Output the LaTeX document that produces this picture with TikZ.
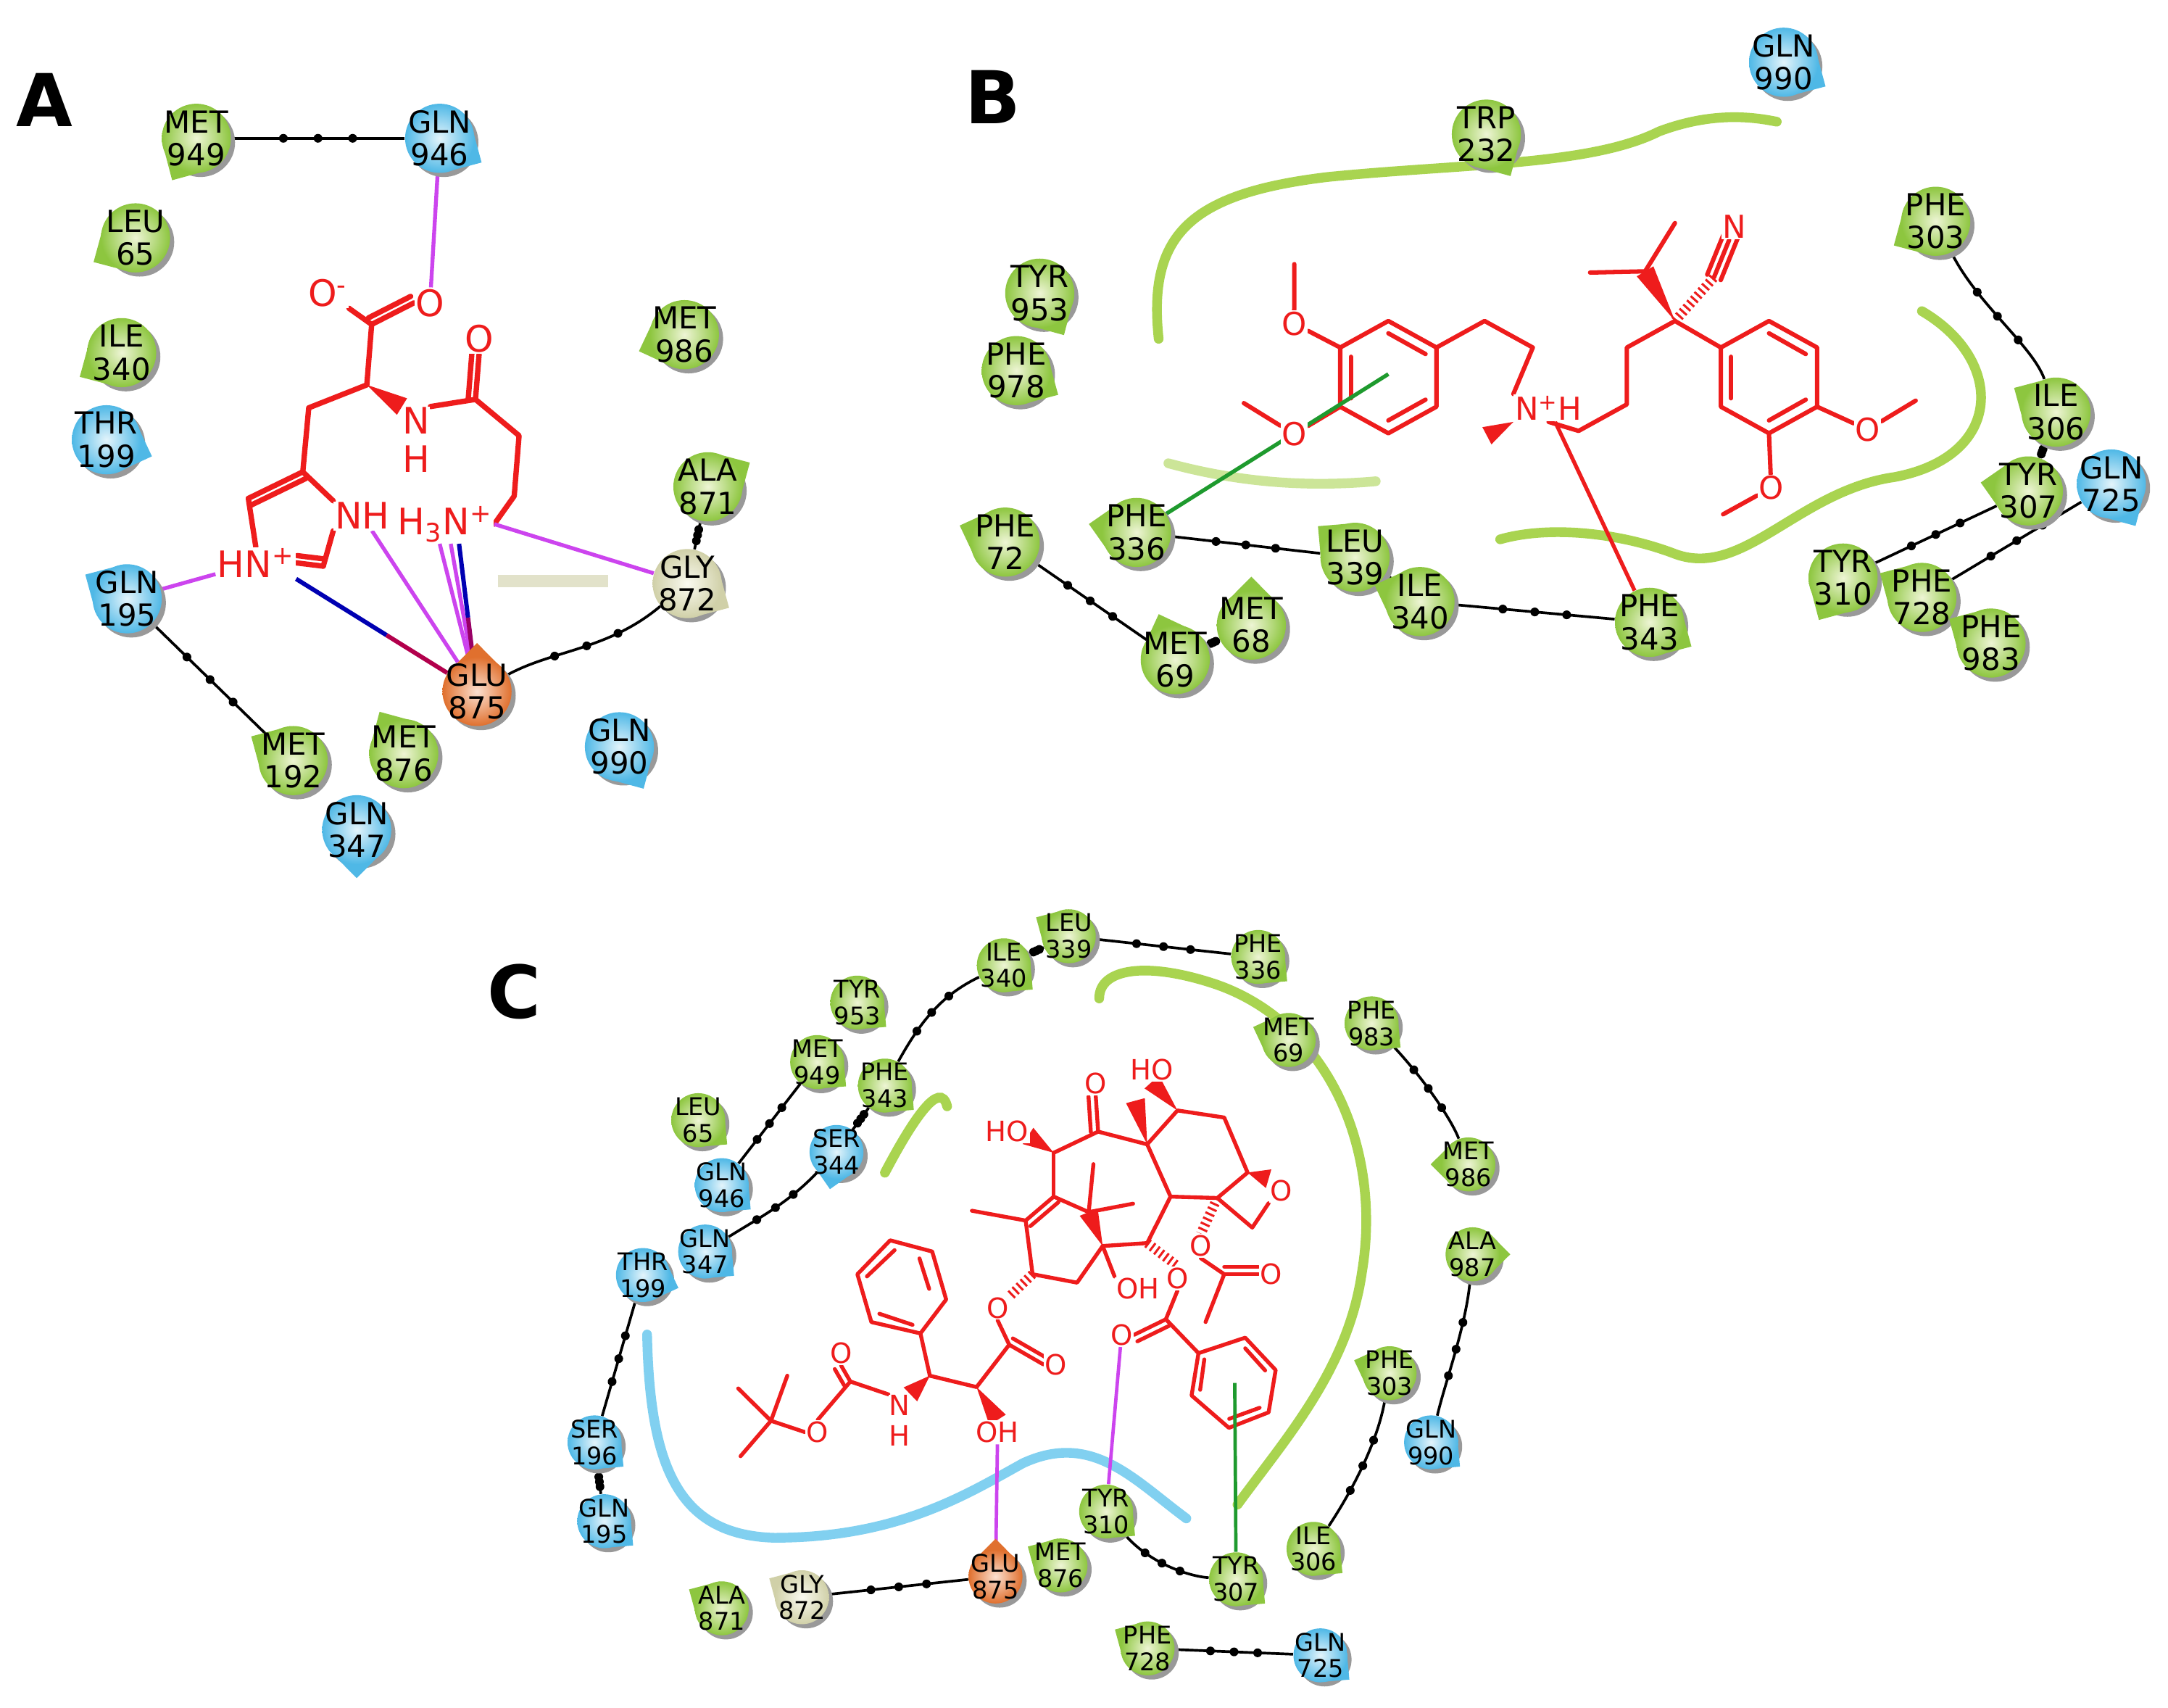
\documentclass[tikz,border=0pt]{standalone}
\usepackage{fontspec}
\setmainfont{DejaVu Sans}
\usetikzlibrary{calc,decorations.markings}
\pgfdeclarelayer{bg}\pgfdeclarelayer{bgw}\pgfsetlayers{bgw,bg,main}
\definecolor{gL}{HTML}{EEF5D5}\definecolor{gD}{HTML}{8DC63F}
\definecolor{bL}{HTML}{E3F4FB}\definecolor{bD}{HTML}{4FB8E6}
\definecolor{oL}{HTML}{FBE0D0}\definecolor{oD}{HTML}{E0702E}
\definecolor{pL}{HTML}{FAFAF0}\definecolor{pD}{HTML}{D0D0A8}
\definecolor{molred}{HTML}{EE1C1C}
\definecolor{hb}{HTML}{CC44EE}
\definecolor{pocket}{HTML}{9ACD32}
\definecolor{pocketb}{HTML}{6CC8EE}
\definecolor{pigreen}{HTML}{1E9A2E}
\def\myrad{0.5}
\def\myresfont{\fontsize{12.5}{13.5}\selectfont}
\newcommand\resnode[6]{%
  \fill[black!40] (#2+3,#3+3) circle[radius=\myrad cm];
  \fill[#5D] ([shift={(#2,#3)}]#6:{1.4*\myrad cm}) -- ([shift={(#2,#3)}]#6+55:\myrad cm) -- ([shift={(#2,#3)}]#6-55:\myrad cm) -- cycle;
  \node[circle,minimum size=2*\myrad cm,inner sep=0pt,inner color=#5L,outer color=#5D] (#1) at (#2,#3) {};
  \node[font=\myresfont,align=center,inner sep=0pt] (#1t) at (#2,#3) {#4};}
\newcommand\dbond[2]{\draw (#1) -- (#2); \draw ($(#1)!3pt!90:(#2)$) -- ($(#2)!3pt!-90:(#1)$);}
\newcommand\wedgebond[2]{\fill[molred] (#1) -- ($(#2)!4pt!90:(#1)$) -- ($(#2)!4pt!-90:(#1)$) -- cycle;}
\newcommand\hashbond[2]{\draw[line width=4pt,line cap=butt,dash pattern=on 0.9pt off 1.4pt] (#1) -- (#2);}
\tikzset{
  bb/.style={black,line width=1.1pt,postaction={decorate},decoration={markings,
     mark=at position 0.3 with {\fill circle[radius=1.8pt];},
     mark=at position 0.5 with {\fill circle[radius=1.8pt];},
     mark=at position 0.7 with {\fill circle[radius=1.8pt];}}},
  mol/.style={draw=molred,line width=2.2pt,line cap=round,line join=round},
  atom/.style={text=molred,fill=white,inner sep=0.5pt},
  hbond/.style={hb,line width=1.6pt},
  pk/.style={pocket,line width=4pt,line cap=round,opacity=0.85},
  panel/.style={font=\fontsize{30}{30}\selectfont\bfseries},
}
\begin{document}
\begin{tikzpicture}[x=0.02cm,y=-0.02cm]
\useasboundingbox (0,0) rectangle (1568,1235);
\begin{pgfonlayer}{bgw}
\fill[white] (0,0) rectangle (1568,1235);
\draw[pD,line width=5pt,opacity=0.6] (360,420) -- (440,420);
\draw[pk] (838,245) .. controls (830,170) and (860,140) .. (960,128) .. controls (1060,118) and (1150,120) .. (1200,95) .. controls (1240,80) and (1270,85) .. (1285,88);
\draw[pk] (1390,225) .. controls (1450,260) and (1450,330) .. (1370,345) .. controls (1300,355) and (1260,420) .. (1210,400) .. controls (1170,385) and (1120,380) .. (1085,390);
\draw[pk,opacity=0.5] (845,335) .. controls (900,350) and (950,352) .. (995,348);
\draw[pk] (795,722) .. controls (795,700) and (830,695) .. (880,712) .. controls (960,740) and (1000,830) .. (985,920) .. controls (975,990) and (930,1040) .. (895,1088);
\draw[pk] (640,848) .. controls (660,810) and (680,780) .. (685,800);
\draw[pocketb,line width=4pt,line cap=round,opacity=0.85] (468,965) .. controls (470,1060) and (490,1110) .. (560,1112) .. controls (650,1112) and (700,1080) .. (740,1058) .. controls (790,1035) and (820,1070) .. (858,1098);
\end{pgfonlayer}
\node[panel] (la) at (32,72) {A};
\node[panel] (lb) at (718,70) {B};
\node[panel] (lc) at (372,717) {C};

% ---------- residues
\resnode{aM949}{142}{100}{MET\\949}{g}{-120}
\resnode{aQ946}{318}{100}{GLN\\946}{b}{-30}
\resnode{aL65}{98}{172}{LEU\\65}{g}{-150}
\resnode{aI340}{88}{255}{ILE\\340}{g}{-150}
\resnode{aT199}{77}{318}{THR\\199}{b}{-20}
\resnode{aM986}{495}{242}{MET\\986}{g}{200}
\resnode{aA871}{512}{352}{ALA\\871}{g}{30}
\resnode{aG872}{497}{422}{GLY\\872}{p}{-30}
\resnode{aQ195}{92}{433}{GLN\\195}{b}{150}
\resnode{aM876}{292}{545}{MET\\876}{g}{120}
\resnode{aQ990}{448}{540}{GLN\\990}{b}{-60}
\resnode{aM192}{212}{550}{MET\\192}{g}{150}
\resnode{aQ347}{258}{600}{GLN\\347}{b}{-90}
\resnode{aE875}{345}{500}{GLU\\875}{o}{90}
% B
\resnode{bQ990}{1290}{45}{GLN\\990}{b}{-30}
\resnode{bW232}{1075}{97}{TRP\\232}{g}{-60}
\resnode{bF303}{1400}{160}{PHE\\303}{g}{-150}
\resnode{bY953}{752}{212}{TYR\\953}{g}{-60}
\resnode{bF978}{735}{268}{PHE\\978}{g}{-30}
\resnode{bI306}{1487}{298}{ILE\\306}{g}{150}
\resnode{bQ725}{1527}{350}{GLN\\725}{b}{-60}
\resnode{bY307}{1467}{355}{TYR\\307}{g}{170}
\resnode{bF72}{727}{392}{PHE\\72}{g}{160}
\resnode{bF336}{822}{385}{PHE\\336}{g}{170}
\resnode{bL339}{980}{403}{LEU\\339}{g}{140}
\resnode{bI340}{1027}{435}{ILE\\340}{g}{160}
\resnode{bM68}{905}{452}{MET\\68}{g}{90}
\resnode{bM69}{850}{477}{MET\\69}{g}{110}
\resnode{bF343}{1193}{450}{PHE\\343}{g}{-30}
\resnode{bY310}{1333}{418}{TYR\\310}{g}{-120}
\resnode{bF728}{1390}{432}{PHE\\728}{g}{150}
\resnode{bF983}{1440}{465}{PHE\\983}{g}{150}
% C
\def\myrad{0.39}
\def\myresfont{\fontsize{10}{11}\selectfont}
\resnode{cL339}{773}{677}{LEU\\339}{g}{150}
\resnode{cF336}{910}{692}{PHE\\336}{g}{-40}
\resnode{cI340}{726}{698}{ILE\\340}{g}{-40}
\resnode{cY953}{620}{725}{TYR\\953}{g}{-40}
\resnode{cM949}{591}{768}{MET\\949}{g}{-40}
\resnode{cF343}{640}{785}{PHE\\343}{g}{-40}
\resnode{cM69}{932}{752}{MET\\69}{g}{160}
\resnode{cF983}{992}{740}{PHE\\983}{g}{-40}
\resnode{cL65}{505}{810}{LEU\\65}{g}{-40}
\resnode{cS344}{605}{833}{SER\\344}{b}{-100}
\resnode{cQ946}{522}{857}{GLN\\946}{b}{-40}
\resnode{cM986}{1062}{842}{MET\\986}{g}{180}
\resnode{cQ347}{510}{905}{GLN\\347}{b}{-40}
\resnode{cT199}{465}{922}{THR\\199}{b}{-20}
\resnode{cA987}{1065}{907}{ALA\\987}{g}{0}
\resnode{cF303}{1005}{993}{PHE\\303}{g}{160}
\resnode{cS196}{430}{1043}{SER\\196}{b}{-40}
\resnode{cQ990}{1035}{1043}{GLN\\990}{b}{-40}
\resnode{cQ195}{437}{1100}{GLN\\195}{b}{-40}
\resnode{cY310}{800}{1093}{TYR\\310}{g}{-40}
\resnode{cI306}{950}{1120}{ILE\\306}{g}{-40}
\resnode{cM876}{767}{1132}{MET\\876}{g}{150}
\resnode{cY307}{894}{1142}{TYR\\307}{g}{-40}
\resnode{cG872}{580}{1155}{GLY\\872}{p}{150}
\resnode{cA871}{522}{1163}{ALA\\871}{g}{150}
\resnode{cF728}{830}{1192}{PHE\\728}{g}{150}
\resnode{cQ725}{955}{1197}{GLN\\725}{b}{-40}
\resnode{cE875}{720}{1140}{GLU\\875}{o}{90}

% ---------- backbone connectors
\begin{pgfonlayer}{bg}
\draw[bb] (aM949) -- (aQ946);
\draw[bb] (aQ195) -- (aM192);
\draw[bb] (aE875) .. controls (400,470) and (440,470) .. (aG872);
\draw[bb] (aA871) -- (aG872);
\draw[bb] (bF303) .. controls (1430,220) and (1470,250) .. (bI306);
\draw[bb] (bI306) -- (bY307);
\draw[bb] (bY307) -- (bY310);
\draw[bb] (bQ725) -- (bF728);
\draw[bb] (bF336) -- (bL339);
\draw[bb] (bL339) -- (bI340);
\draw[bb] (bI340) -- (bF343);
\draw[bb] (bF72) -- (bM69);
\draw[bb] (bM69) -- (bM68);
\draw[bb] (cI340) -- (cL339);
\draw[bb] (cL339) -- (cF336);
\draw[bb] (cI340) .. controls (680,720) and (665,740) .. (cF343);
\draw[bb] (cF343) -- (cS344);
\draw[bb] (cS344) .. controls (570,870) and (550,880) .. (cQ347);
\draw[bb] (cM949) -- (cQ946);
\draw[bb] (cT199) -- (cS196);
\draw[bb] (cS196) -- (cQ195);
\draw[bb] (cG872) -- (cE875);
\draw[bb] (cY310) .. controls (830,1130) and (860,1140) .. (cY307);
\draw[bb] (cF983) .. controls (1030,780) and (1050,810) .. (cM986);
\draw[bb] (cA987) .. controls (1060,960) and (1045,1000) .. (cQ990);
\draw[bb] (cF303) .. controls (995,1050) and (970,1090) .. (cI306);
\draw[bb] (cF728) -- (cQ725);
\end{pgfonlayer}

% ---------- molecule A
\node[atom,font=\fontsize{15}{15}\selectfont] (aOm) at (237,212) {O\textsuperscript{-}};
\node[atom,font=\fontsize{15}{15}\selectfont] (aO1) at (311,219) {O};
\node[atom,font=\fontsize{15}{15}\selectfont] (aO2) at (346.5,245) {O};
\node[atom,font=\fontsize{15}{16}\selectfont,align=center,inner sep=0pt] (aNH) at (301,318) {N\\H};
\node[atom,font=\fontsize{15}{15}\selectfont] (aNH2) at (262,373) {NH};
\node[atom,font=\fontsize{15}{15}\selectfont] (aHN) at (185,407) {HN\textsuperscript{+}};
\node[atom,font=\fontsize{15}{15}\selectfont] (aH3N) at (322,379) {H\textsubscript{3}N\textsuperscript{+}};
\begin{pgfonlayer}{bg}
\begin{scope}[every path/.style={mol}]
\draw (268.8,234.6) -- (aOm);
\dbond{268.8,234.6}{aO1.west}
\draw (268.8,234.6) -- (265.3,278.3) -- (223.3,294.9) -- (219,341.2);
\dbond{219,341.2}{179.6,360.4}
\draw (179.6,360.4) -- (aHN.north);
\dbond{aHN.east}{233.8,409.4}
\draw (233.8,409.4) -- (aNH2.south west); \draw (aNH2.north west) -- (219,341.2);
\draw (aNH.north east) -- (343.9,288.8);
\dbond{343.9,288.8}{aO2.south}
\draw (343.9,288.8) -- (375.4,315) -- (371.9,358.7) -- (aH3N.east);
\end{scope}
\wedgebond{265.3,278.3}{aNH.north west}
\draw[hbond] (aQ946) -- (aO1);
\draw[hbond] (aQ195) -- (aHN);
\draw[hbond] (aNH2) -- (aE875);
\draw[hbond] ($(aH3N.south)+(-4,0)$) -- (aE875);
\draw[hbond] ($(aH3N.south)+(4,0)$) -- (aE875);
\draw[hbond] (aH3N.east) -- (aG872);
\coordinate (aHNse) at (aHN.south east);
\coordinate (aHNm) at ($(aHNse)!0.5!(aE875)$);
\draw[line width=1.8pt,blue!70!black] (aHNse) -- (aHNm);
\draw[line width=1.8pt,red!70!blue] (aHNm) -- (aE875);
\coordinate (aH3s) at ($(aH3N.south)+(10,0)$);
\coordinate (aH3m) at ($(aH3s)!0.5!(aE875)$);
\draw[line width=1.8pt,blue!70!black] (aH3s) -- (aH3m);
\draw[line width=1.8pt,red!60!blue] (aH3m) -- (aE875);
\end{pgfonlayer}

% ---------- molecule B
\begin{scope}
\tikzset{atom/.append style={font=\fontsize{13}{13}\selectfont}}
\node[atom] (bO1) at (936,234) {O};
\node[atom] (bO2) at (936,314) {O};
\node[atom] (bN) at (1120,295) {N\textsuperscript{+}H};
\node[atom] (bNc) at (1254.5,163.9) {N};
\node[atom] (bO3) at (1350.7,310.7) {O};
\node[atom] (bO4) at (1281,352.7) {O};
\end{scope}
\coordinate (bRing) at (1004.1,270.5);
\begin{pgfonlayer}{bg}
\begin{scope}[every path/.style={mol,line width=1.8pt}]
\draw (1004.1,232.1) -- (1038.9,251.3) -- (1038.9,294.1) -- (1004.1,313.3) -- (969.3,294.1) -- (969.3,251.3) -- cycle;
\draw (1004.1,241) -- (1031,256); \draw (1031,289) -- (1004.1,304); \draw (977,258) -- (977,288);
\draw (969.3,251.3) -- (bO1) -- (936.1,191);
\draw (969.3,294.1) -- (bO2) -- (899.6,291.5);
\draw (1038.9,251.3) -- (1073.7,232.1) -- (1108.6,251.3) -- (bN.north west);
\draw (bN.south) -- (1141.7,311.6) -- (1176.6,292.4) -- (1176.6,251.3) -- (1211.4,232.1);
\draw (1150,197.1) -- (1189.8,196.2) -- (1211.4,161.3);
\draw (1239.6,200.6) -- (bNc);
\draw ($(1239.6,200.6)!3pt!90:(bNc)$) -- ($(bNc)!3pt!-90:(1239.6,200.6)$);
\draw ($(1239.6,200.6)!3pt!-90:(bNc)$) -- ($(bNc)!3pt!90:(1239.6,200.6)$);
\draw (1211.4,232.1) -- (1244.6,251.3);
\draw (1244.6,251.3) -- (1279.4,232.1) -- (1314.2,251.3) -- (1314.2,294.1) -- (1279.4,313.3) -- (1244.6,294.1) -- cycle;
\draw (1279.4,241) -- (1306,256); \draw (1306,289) -- (1279.4,304); \draw (1252,258) -- (1252,288);
\draw (1314.2,294.1) -- (bO3) -- (1385.5,289.7);
\draw (1279.4,313.3) -- (bO4) -- (1246.2,371.9);
\end{scope}
\wedgebond{bN.south west}{1075.4,315.1}
\wedgebond{1211.4,232.1}{1189.8,196.2}
\begin{scope}[molred]\hashbond{1211.4,232.1}{1239.6,200.6}\end{scope}
\draw[pigreen,line width=1.6pt] (bRing) -- (bF336);
\draw[molred,line width=1.6pt] (bN) -- (bF343);
\end{pgfonlayer}

% ---------- molecule C
\begin{scope}
\tikzset{atom/.append style={font=\fontsize{11.5}{11.5}\selectfont}}
\node[atom] (cHO1) at (833,773.5) {HO};
\node[atom] (cOk) at (792.5,783.7) {O};
\node[atom] (cHO2) at (728.3,818.3) {HO};
\node[atom] (cOx) at (926.7,861.2) {O};
\node[atom] (cOH) at (822.9,932) {OH};
\node[atom] (cObz) at (851.6,924.4) {O};
\node[atom] (cOac) at (868.5,901) {O};
\node[atom] (cOac2) at (919.2,921.4) {O};
\node[atom] (cObz2) at (811.1,965.2) {O};
\node[atom] (cOs) at (721.5,945.8) {O};
\node[atom] (cOe) at (763.7,986.6) {O};
\node[atom] (cOH2) at (721.5,1035.6) {OH};
\node[atom,font=\fontsize{11.5}{12.5}\selectfont,align=center,inner sep=0pt] (cNH) at (650.5,1027) {N\\H};
\node[atom] (cOc) at (608.3,978.5) {O};
\node[atom] (cOc2) at (591.4,1035.6) {O};
\end{scope}
\coordinate (cRing) at (893,1000);
\begin{pgfonlayer}{bg}
\begin{scope}[every path/.style={mol,line width=1.6pt}]
\draw (829.7,827.5) -- (851.6,803) -- (885.4,808.1) -- (902.3,847.9) -- (880.4,866.3) -- (846.6,865.3) -- cycle;
\draw (cOx.south west) -- (905.7,887.7) -- (880.4,866.3);
\draw (829.7,827.5) -- (794.2,818.3) -- (762.1,833.6);
\dbond{794.2,818.3}{cOk.south}
\draw (762.1,833.6) -- (762.1,865.3);
\dbond{762.1,865.3}{741.8,882.6}
\draw (741.8,882.6) -- (702.9,875.5);
\draw (741.8,882.6) -- (746.8,921.4) -- (779,927.5) -- (797.5,901);
\draw (762.1,865.3) -- (787.4,876.5);
\draw (790.8,841.8) -- (787.4,876.5) -- (819.5,870.4);
\draw (797.5,901) -- (cOH.north west);
\draw (797.5,901) -- (829.7,898.9) -- (846.6,865.3);
\draw (cOac.south) -- (885.4,921.4) -- (871.9,956);
\dbond{885.4,921.4}{cOac2.west}
\draw (cObz.south) -- (843.2,954);
\dbond{843.2,954}{cObz2.east}
\draw (843.2,954) -- (866.8,978.5);
\draw (866.8,978.5) -- (900.6,967.3) -- (922.6,990.7) -- (917.5,1021.3) -- (888.8,1032.5) -- (861.8,1009.1) -- cycle;
\draw (900.6,975) -- (915,991); \draw (911,1018) -- (889,1026); \draw (868,1005) -- (871,983);
\draw (cOs.south) -- (729.9,972.4);
\dbond{729.9,972.4}{cOe.west}
\draw (729.9,972.4) -- (706.3,1003) -- (672.5,994.8);
\draw (672.5,994.8) -- (665.7,964.2);
\draw (665.7,964.2) -- (684.3,939.7) -- (674.2,905) -- (643.8,896.9) -- (620.1,921.4) -- (630.2,956) -- cycle;
\draw (672,932) -- (665,910); \draw (647,904) -- (627,923); \draw (636,950) -- (660,958);
\draw (cNH.north west) -- (615,999);
\dbond{615,999}{cOc.south}
\draw (615,999) -- (cOc2.north); \draw (cOc2.west) -- (557.6,1027.4);
\draw (533.9,1004) -- (557.6,1027.4) -- (569.4,994.8); \draw (557.6,1027.4) -- (535.6,1053);
\end{scope}
\wedgebond{851.6,803}{cHO1.south}
\wedgebond{902.3,847.9}{cOx.north west}
\wedgebond{829.7,827.5}{821.2,795.9}
\wedgebond{762.1,833.6}{743.5,821.4}
\wedgebond{797.5,901}{787.4,876.5}
\wedgebond{706.3,1003}{cOH2.north}
\wedgebond{672.5,994.8}{cNH.north east}
\begin{scope}[molred]
\hashbond{829.7,898.9}{cObz.north}
\hashbond{880.4,866.3}{cOac.north}
\hashbond{746.8,921.4}{cOs.north east}
\end{scope}
\draw[hbond,line width=1.4pt] (cOH2) -- (cE875);
\draw[hbond,line width=1.4pt] (cObz2) -- (cY310);
\draw[pigreen,line width=1.4pt] (cRing) -- (cY307);
\end{pgfonlayer}
\end{tikzpicture}
\end{document}
